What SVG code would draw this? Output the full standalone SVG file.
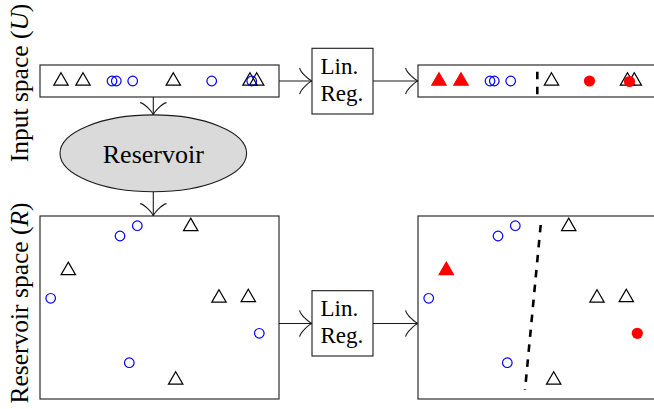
<svg xmlns="http://www.w3.org/2000/svg" xmlns:xlink="http://www.w3.org/1999/xlink" width="654" height="409" viewBox="0 0 654 409">
  <defs>
    <style>
      .box { fill: #ffffff; stroke: #1a1a1a; stroke-width: 1.1; }
      .res { fill: #dadada; stroke: #1a1a1a; stroke-width: 1.1; }
      .wire { fill: none; stroke: #1a1a1a; stroke-width: 1.1; }
      .lbl { font-family: "Liberation Serif", "Times New Roman", serif; fill: #000; }
      .tri { fill: none; stroke: #000; stroke-width: 1.2; }
      .tri-red { fill: #ff0000; stroke: #ff0000; stroke-width: 1.2; }
      .circ { fill: none; stroke: #0000ff; stroke-width: 1.2; }
      .circ-red { fill: #ff0000; stroke: none; }
      .split { fill: none; stroke: #000; stroke-width: 2.6; stroke-dasharray: 7.5 7.5; }
    </style>
    <!-- curved-barb arrow tip -->
    <marker id="tip" markerUnits="userSpaceOnUse" orient="auto" refX="0" refY="0" markerWidth="20" markerHeight="32" viewBox="-15 -16 17 32" overflow="visible">
      <path d="M -12.4,-13.2 C -11.5,-8.2 -2.5,-0.8 0,0 C -2.5,0.8 -11.5,8.2 -12.4,13.2" fill="none" stroke="#1a1a1a" stroke-width="1.1"/>
    </marker>
    <polygon id="t" points="0,-8.3 7.2,4.2 -7.2,4.2"/>
    <circle id="c" r="4.8"/>
    <circle id="d" r="5.6"/>
  </defs>

  <!-- side labels -->
  <g id="label-input">
    <text class="lbl" font-size="25.5" text-anchor="middle" transform="translate(28,83) rotate(-90)">Input space (<tspan font-style="italic">U</tspan>)</text>
  </g>
  <g id="label-reservoir">
    <text class="lbl" font-size="25.5" text-anchor="middle" transform="translate(28,303) rotate(-90)">Reservoir space (<tspan font-style="italic">R</tspan>)</text>
  </g>

  <!-- connectors -->
  <g id="connectors">
    <line class="wire" x1="279" y1="81" x2="312" y2="81" marker-end="url(#tip)"/>
    <line class="wire" x1="373" y1="81" x2="418" y2="81" marker-end="url(#tip)"/>
    <line class="wire" x1="153.3" y1="97" x2="153.3" y2="115" marker-end="url(#tip)"/>
    <line class="wire" x1="153.3" y1="191.7" x2="153.3" y2="216" marker-end="url(#tip)"/>
    <line class="wire" x1="279" y1="323.5" x2="312" y2="323.5" marker-end="url(#tip)"/>
    <line class="wire" x1="373" y1="323.5" x2="418" y2="323.5" marker-end="url(#tip)"/>
  </g>

  <!-- input samples -->
  <g id="input-space">
    <rect class="box" x="40" y="65" width="239" height="32"/>
    <use href="#t" xlink:href="#t" class="tri" x="61" y="81"/>
    <use href="#t" xlink:href="#t" class="tri" x="83" y="81"/>
    <use href="#c" xlink:href="#c" class="circ" x="112" y="81"/>
    <use href="#c" xlink:href="#c" class="circ" x="116.3" y="81"/>
    <use href="#c" xlink:href="#c" class="circ" x="132.7" y="81"/>
    <use href="#t" xlink:href="#t" class="tri" x="173.3" y="81"/>
    <use href="#c" xlink:href="#c" class="circ" x="211.7" y="81"/>
    <use href="#t" xlink:href="#t" class="tri" x="250" y="81"/>
    <use href="#t" xlink:href="#t" class="tri" x="256.7" y="81"/>
    <use href="#c" xlink:href="#c" class="circ" x="251.7" y="81"/>
  </g>

  <!-- linear readout on input -->
  <g id="linreg-input">
    <rect class="box" x="312" y="48.3" width="61" height="65.7"/>
    <text class="lbl" font-size="23" x="320.5" y="74.3">Lin.</text>
    <text class="lbl" font-size="23" x="320.5" y="100.5">Reg.</text>
  </g>

  <!-- classified input samples -->
  <g id="input-result">
    <rect class="box" x="418" y="65" width="239" height="32"/>
    <use href="#t" xlink:href="#t" class="tri-red" x="439" y="81"/>
    <use href="#t" xlink:href="#t" class="tri-red" x="461" y="81"/>
    <use href="#c" xlink:href="#c" class="circ" x="490" y="81"/>
    <use href="#c" xlink:href="#c" class="circ" x="494.3" y="81"/>
    <use href="#c" xlink:href="#c" class="circ" x="510.7" y="81"/>
    <line class="split" x1="537.3" y1="71.7" x2="537.3" y2="94.3"/>
    <use href="#t" xlink:href="#t" class="tri" x="551.5" y="81"/>
    <use href="#d" xlink:href="#d" class="circ-red" x="589.5" y="81"/>
    <use href="#t" xlink:href="#t" class="tri" x="627.5" y="81"/>
    <use href="#t" xlink:href="#t" class="tri" x="634.3" y="81"/>
    <use href="#d" xlink:href="#d" class="circ-red" x="629.5" y="81.5"/>
  </g>

  <!-- reservoir -->
  <g id="reservoir">
    <ellipse class="res" cx="153.3" cy="153.3" rx="93.3" ry="38.4"/>
    <text class="lbl" font-size="26" x="153.3" y="162.7" text-anchor="middle">Reservoir</text>
  </g>

  <!-- reservoir states -->
  <g id="reservoir-space">
    <rect class="box" x="40" y="216" width="239" height="183"/>
    <use href="#c" xlink:href="#c" class="circ" x="137.3" y="225.7"/>
    <use href="#c" xlink:href="#c" class="circ" x="120" y="236"/>
    <use href="#t" xlink:href="#t" class="tri" x="190.7" y="226.4"/>
    <use href="#t" xlink:href="#t" class="tri" x="68.3" y="270.4"/>
    <use href="#c" xlink:href="#c" class="circ" x="50.7" y="298.3"/>
    <use href="#t" xlink:href="#t" class="tri" x="219" y="298"/>
    <use href="#t" xlink:href="#t" class="tri" x="248.3" y="297.5"/>
    <use href="#c" xlink:href="#c" class="circ" x="259.3" y="333.3"/>
    <use href="#c" xlink:href="#c" class="circ" x="129.3" y="362.7"/>
    <use href="#t" xlink:href="#t" class="tri" x="175.7" y="380"/>
  </g>

  <!-- linear readout on reservoir -->
  <g id="linreg-reservoir">
    <rect class="box" x="312" y="290.7" width="61" height="65.3"/>
    <text class="lbl" font-size="23" x="320.5" y="316.4">Lin.</text>
    <text class="lbl" font-size="23" x="320.5" y="342.7">Reg.</text>
  </g>

  <!-- classified reservoir states -->
  <g id="reservoir-result">
    <rect class="box" x="418" y="216" width="239" height="183"/>
    <use href="#c" xlink:href="#c" class="circ" x="515.3" y="225.7"/>
    <use href="#c" xlink:href="#c" class="circ" x="498" y="236"/>
    <use href="#t" xlink:href="#t" class="tri" x="568.7" y="226.4"/>
    <use href="#t" xlink:href="#t" class="tri-red" x="446.3" y="270.4"/>
    <use href="#c" xlink:href="#c" class="circ" x="428.7" y="298.3"/>
    <use href="#t" xlink:href="#t" class="tri" x="597" y="298"/>
    <use href="#t" xlink:href="#t" class="tri" x="626.3" y="297.5"/>
    <use href="#d" xlink:href="#d" class="circ-red" x="637.3" y="333.3"/>
    <use href="#c" xlink:href="#c" class="circ" x="507.3" y="362.7"/>
    <use href="#t" xlink:href="#t" class="tri" x="553.7" y="380"/>
    <line class="split" x1="540.7" y1="225" x2="525" y2="390"/>
  </g>
</svg>
